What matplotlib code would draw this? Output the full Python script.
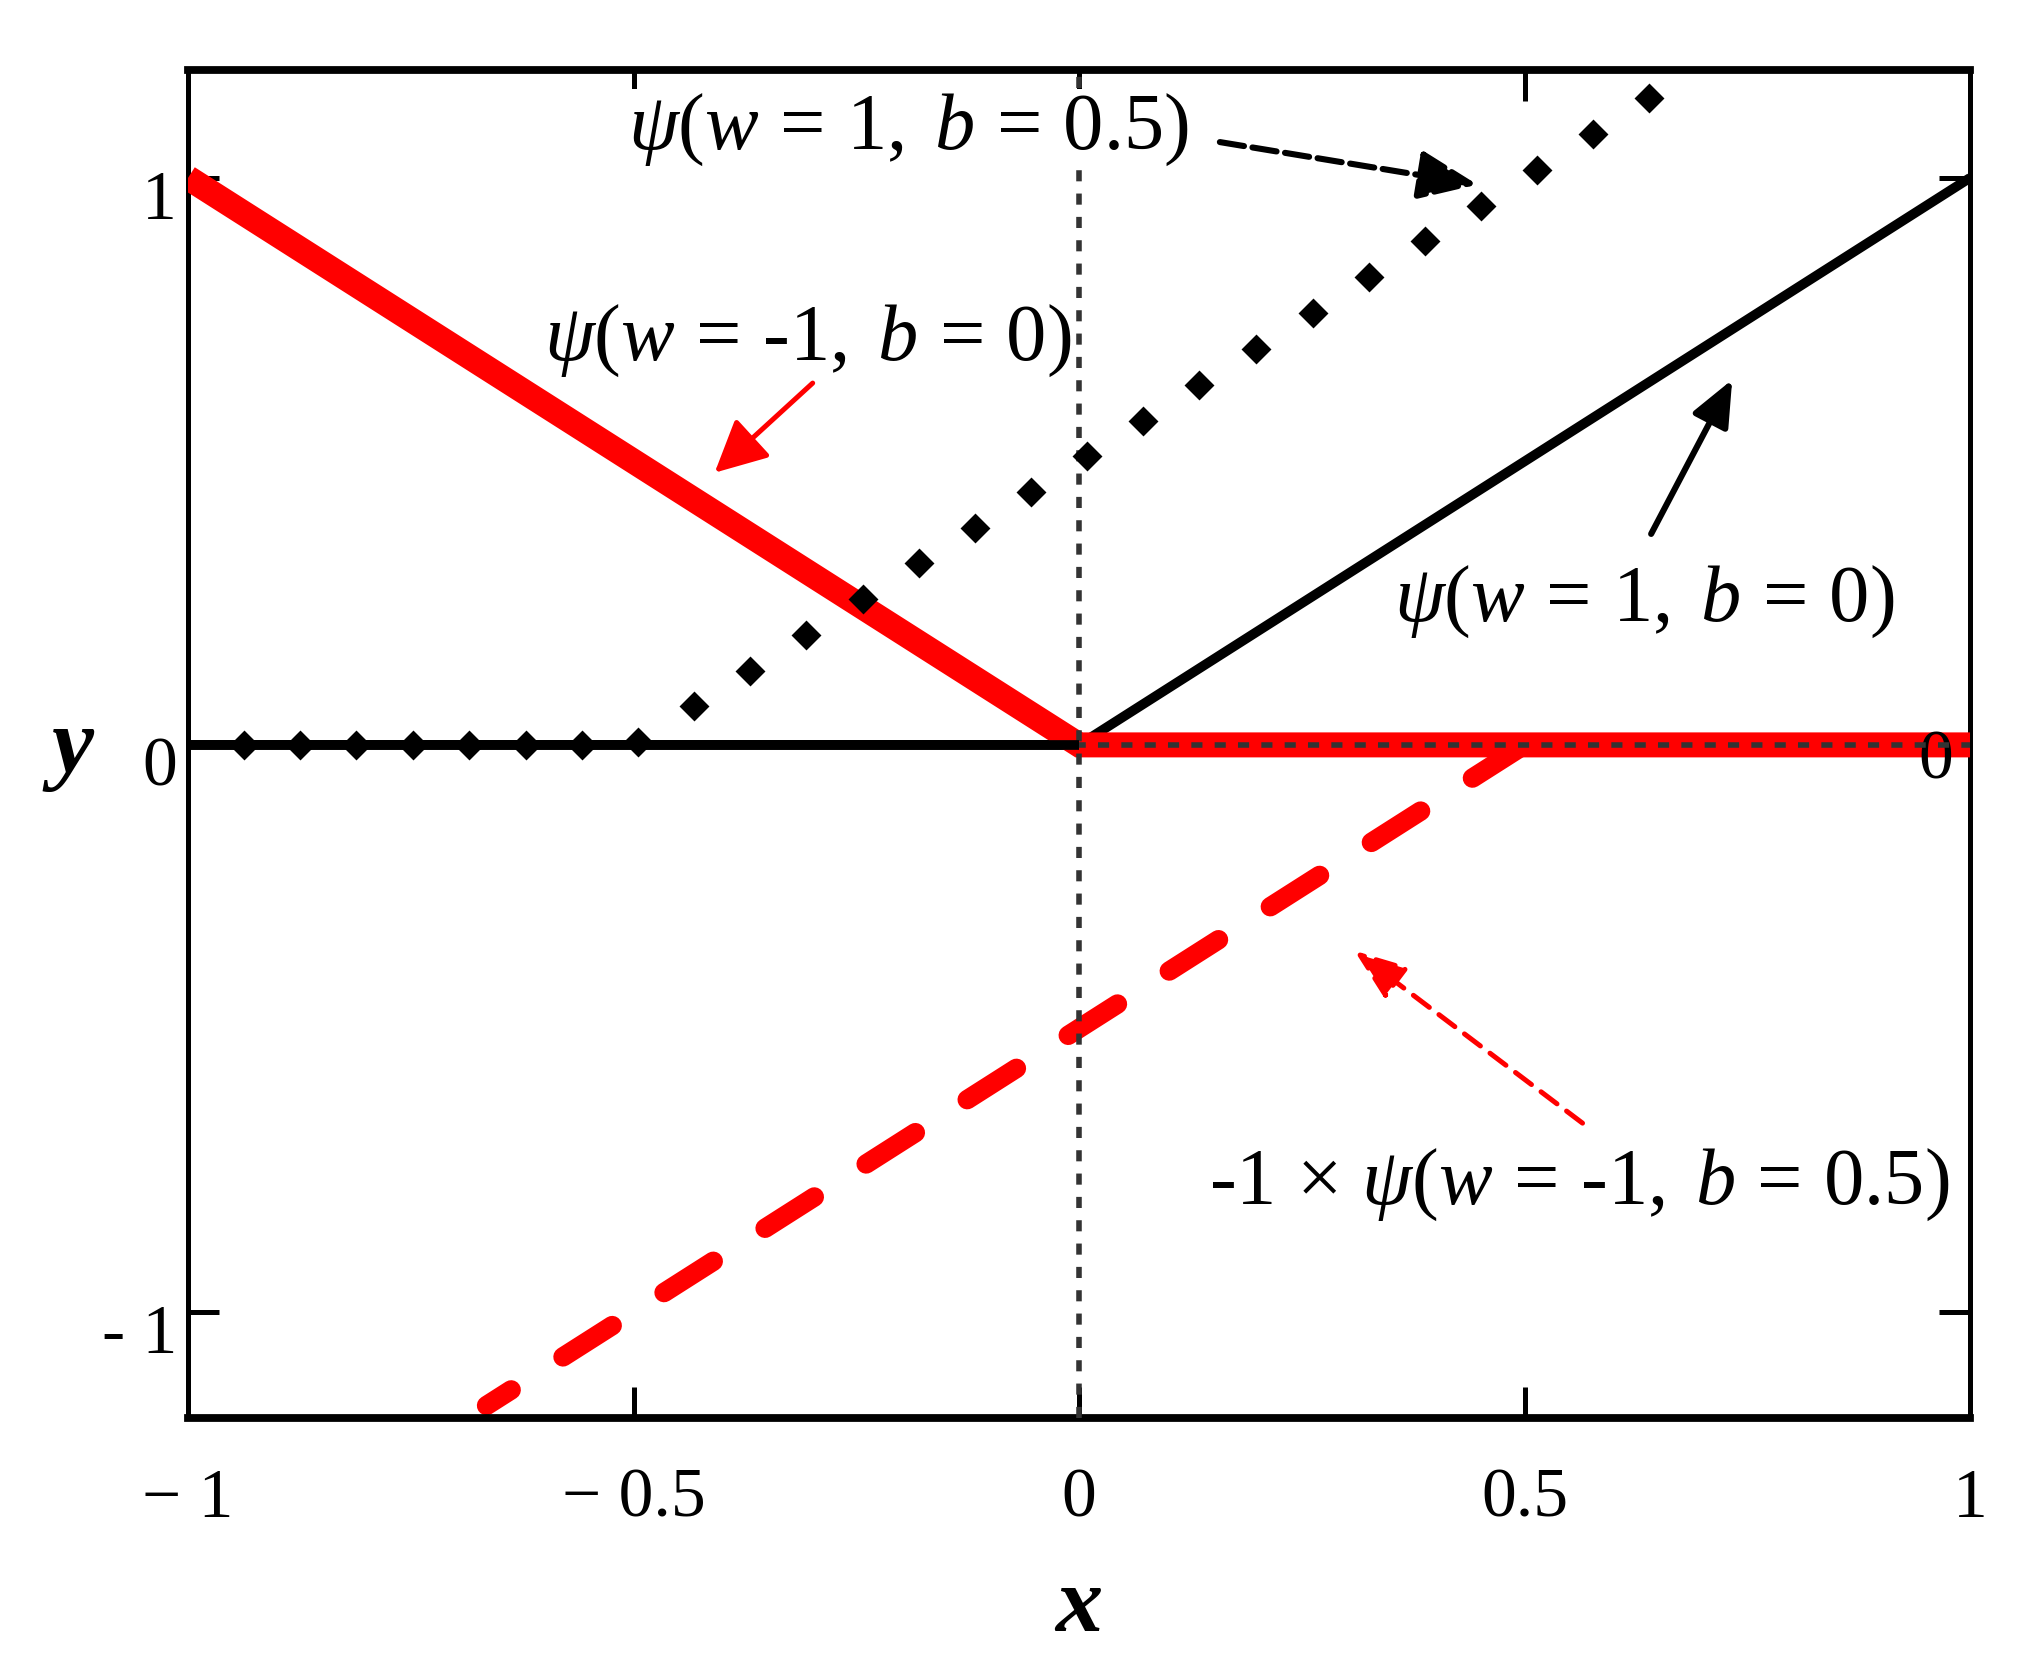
import matplotlib
matplotlib.use("Agg")
import matplotlib.pyplot as plt
from matplotlib.transforms import ScaledTranslation

plt.rcParams['font.family'] = ['Liberation Serif', 'DejaVu Serif']
plt.rcParams['mathtext.fontset'] = 'custom'
plt.rcParams['mathtext.rm'] = 'Liberation Serif'
plt.rcParams['mathtext.it'] = 'Liberation Serif:italic'
plt.rcParams['mathtext.bf'] = 'Liberation Serif:bold'

# ---- data ----
# psi(w=1, b=0): black solid
relu_x = [-1.0, 0.0, 1.0]
relu_y = [0.0, 0.0, 1.0]
# psi(w=-1, b=0): thick red solid
neg_x = [-1.0, 0.0, 1.0]
neg_y = [1.0, 0.0, 0.0]
# -1 x psi(w=-1, b=0.5): red dashed
flip_x = [-0.665, 0.5, 1.0]
flip_y = [-1.165, 0.0, 0.0]
# psi(w=1, b=0.5): black diamond dots
dot_x = [-0.937, -0.874, -0.811, -0.748, -0.685, -0.621, -0.558, -0.495,
         -0.432, -0.369, -0.306, -0.243, -0.180, -0.117, -0.054, 0.009,
         0.072, 0.135, 0.198, 0.262, 0.325, 0.388, 0.451, 0.514, 0.577, 0.640]
dot_y = [0.0, 0.0, 0.0, 0.0, 0.0, 0.0, 0.0, 0.005,
         0.068, 0.131, 0.194, 0.257, 0.320, 0.383, 0.446, 0.509,
         0.572, 0.635, 0.698, 0.762, 0.825, 0.888, 0.951, 1.014, 1.077, 1.140]

x_ticks = [-1, -0.5, 0, 0.5, 1]
x_ticklabels = ['\u2212 1', '\u2212 0.5', '0', '0.5', '1']
y_ticks = [-1, 0, 1]
y_ticklabels = ['- 1', '0', '1']

HY = '\u2010'  # short hyphen instead of the long math minus
lab_dot = r'$\psi(w\,=\,1,\;b\,=\,0.5)$'
lab_neg = r'$\psi(w\,=\,' + HY + r'1,\;b\,=\,0)$'
lab_relu = r'$\psi(w\,=\,1,\;b\,=\,0)$'
lab_flip = r'-1 $\times$ $\psi(w\,=\,' + HY + r'1,\;b\,=\,0.5)$'

fig = plt.figure(figsize=(10.21, 8.36), dpi=200)
ax = fig.add_axes([0.0921, 0.1519, 0.8727, 0.8062])

ax.plot(flip_x, flip_y, color='#ff0000', lw=7.0, zorder=2.5,
        linestyle=(1.5, (3.0, 3.16)), dash_capstyle='round')
ax.plot(neg_x, neg_y, color='#ff0000', lw=9.0, zorder=3, solid_capstyle='butt',
        solid_joinstyle='miter')
# dotted cross-hair axes
ax.axhline(0, color='#333333', lw=2.0, linestyle=(0, (2, 2.2)), zorder=4)
ax.axvline(0, color='#333333', lw=2.0, linestyle=(0, (2, 2.2)), zorder=4)
ax.plot(relu_x, relu_y, color='black', lw=3.5, zorder=2.8, solid_capstyle='butt')
ax.plot(relu_x[:2], relu_y[:2], color='black', lw=3.5, zorder=4.5, solid_capstyle='butt')
ax.plot(dot_x, dot_y, linestyle='none', marker='D', ms=6.5, color='black',
        mew=1.0, zorder=5)

ax.set_xlim(-1, 1)
ax.set_ylim(-1.187, 1.19)
ax.set_xticks(x_ticks)
ax.set_xticklabels(x_ticklabels, fontsize=25)
ax.set_yticks(y_ticks)
ax.set_yticklabels(y_ticklabels, fontsize=25)
ax.tick_params(axis='both', direction='in', length=11, width=1.8,
               top=True, right=True, labelright=False)
ax.tick_params(axis='x', pad=18)
ax.tick_params(axis='y', pad=4)
for lbl in ax.get_yticklabels():
    lbl.set_transform(lbl.get_transform() + ScaledTranslation(0, -6 / 72, fig.dpi_scale_trans))

for side in ['left', 'right']:
    ax.spines[side].set_linewidth(1.8)
for side in ['top', 'bottom']:
    ax.spines[side].set_linewidth(2.8)

# lone "0" on the right side
ax.annotate('0', xy=(1, 0), xytext=(-6, -6), textcoords='offset points',
            ha='right', va='center', fontsize=25)

ax.set_xlabel('x', fontsize=34, fontweight='bold', fontstyle='italic',
              va='center')
ax.set_ylabel('y', fontsize=34, fontweight='bold', fontstyle='italic', rotation=0,
              va='center', ha='center')
ax.xaxis.set_label_coords(0.5, -0.141)
ax.yaxis.set_label_coords(-0.065, 0.496)

# labels and arrows
ax.text(-0.192, 1.085, lab_dot, fontsize=29, ha='center', va='center', zorder=6,
        bbox=dict(facecolor='white', edgecolor='none', pad=1))
ax.annotate('', xy=(0.447, 0.988), xytext=(0.158, 1.063), zorder=6,
            arrowprops=dict(arrowstyle='-|>,head_length=18,head_width=7.5',
                            mutation_scale=1, color='black', lw=2.2,
                            linestyle=(0, (4.0, 1.4)), shrinkA=0, shrinkB=0))

ax.text(-0.305, 0.713, lab_neg, fontsize=29, ha='center', va='center', zorder=6)
ax.annotate('', xy=(-0.409, 0.480), xytext=(-0.299, 0.638), zorder=6,
            arrowprops=dict(arrowstyle='-|>,head_length=16,head_width=8',
                            mutation_scale=1, color='#ff0000', lw=1.8,
                            shrinkA=0, shrinkB=0))

ax.text(0.634, 0.252, lab_relu, fontsize=29, ha='center', va='center', zorder=6)
ax.annotate('', xy=(0.733, 0.644), xytext=(0.642, 0.372), zorder=6,
            arrowprops=dict(arrowstyle='-|>,head_length=14,head_width=6',
                            mutation_scale=1, color='black', lw=2.2,
                            shrinkA=0, shrinkB=0))

ax.text(0.561, -0.776, lab_flip, fontsize=29, ha='center', va='center', zorder=6)
ax.annotate('', xy=(0.309, -0.363), xytext=(0.565, -0.667), zorder=6,
            arrowprops=dict(arrowstyle='-|>,head_length=16,head_width=6',
                            mutation_scale=1, color='#ff0000', lw=1.8,
                            linestyle=(0, (4, 2.4)), shrinkA=0, shrinkB=0))

fig.savefig('out.png', dpi=200, facecolor='white')
